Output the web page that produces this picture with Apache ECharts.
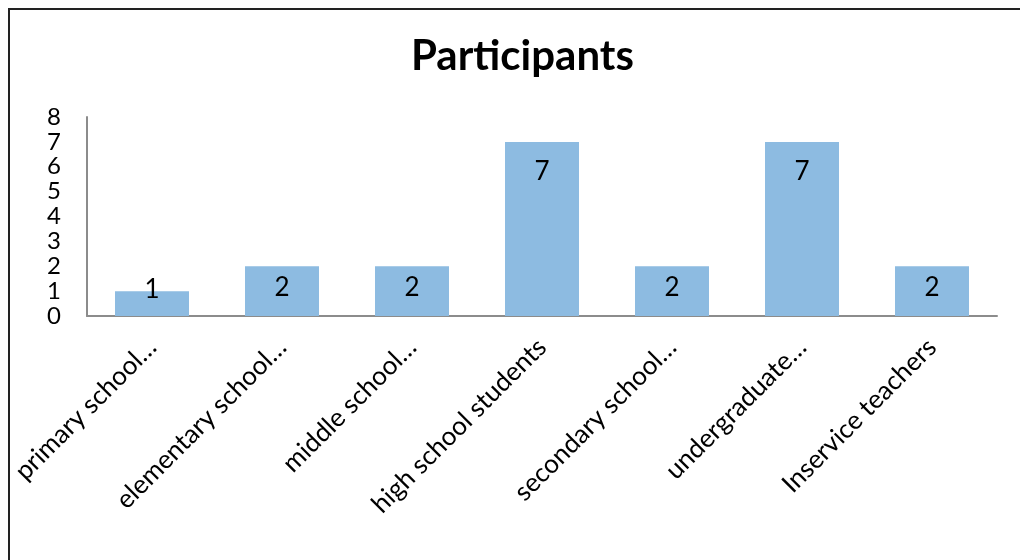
<!DOCTYPE html>
<html>
<head>
<meta charset="utf-8">
<script src="https://cdn.jsdelivr.net/npm/echarts@6/dist/echarts.min.js"></script>
<style>
html,body{margin:0;padding:0;background:#fff;}
#chart{width:1020px;height:560px;}
</style>
</head>
<body>
<div id="chart"></div>
<script>
const titleText = 'Participants';
const categories = ['primary school…', 'elementary school…', 'middle school…', 'high school students', 'secondary school…', 'undergraduate…', 'Inservice teachers'];
const values = [1, 2, 2, 7, 2, 7, 2];
const yTicks = { min: 0, max: 8, interval: 1 };

const FONT = 'Lato, "Open Sans", sans-serif';
const chart = echarts.init(document.getElementById('chart'), null, { renderer: 'canvas' });

function labelDistance(v) {
  if (v >= 5) return 17;
  if (v >= 2) return 8;
  return -15;
}

chart.setOption({
  backgroundColor: '#ffffff',
  animation: false,
  title: {
    text: titleText,
    left: 406,
    top: 30,
    textStyle: { fontFamily: FONT, fontWeight: 'bold', fontSize: 42, color: '#000' }
  },
  graphic: [
    { type: 'line', shape: { x1: 8, y1: 9, x2: 1020, y2: 9 }, style: { stroke: '#222', lineWidth: 2 } },
    { type: 'line', shape: { x1: 9, y1: 8, x2: 9, y2: 560 }, style: { stroke: '#222', lineWidth: 2 } }
  ],
  grid: { left: 87, right: 23, top: 117, bottom: 244, containLabel: false },
  xAxis: {
    type: 'category',
    data: categories,
    axisLine: { show: true, lineStyle: { color: '#8c8c8c', width: 2 } },
    axisTick: { show: false },
    axisLabel: {
      rotate: 45,
      interval: 0,
      margin: 27,
      fontFamily: FONT,
      fontSize: 26,
      color: '#000'
    }
  },
  yAxis: {
    type: 'value',
    min: yTicks.min,
    max: yTicks.max,
    interval: yTicks.interval,
    splitLine: { show: false },
    axisLine: { show: true, lineStyle: { color: '#8c8c8c', width: 2 } },
    axisTick: { show: false },
    axisLabel: {
      margin: 26,
      fontFamily: FONT,
      fontSize: 24,
      color: '#000'
    }
  },
  series: [{
    type: 'bar',
    barWidth: 74,
    itemStyle: { color: '#8dbbe1' },
    data: values.map(v => ({
      value: v,
      label: {
        show: true,
        position: 'insideTop',
        distance: labelDistance(v),
        fontFamily: FONT,
        fontSize: 26,
        color: '#000'
      }
    }))
  }]
});
</script>
</body>
</html>
